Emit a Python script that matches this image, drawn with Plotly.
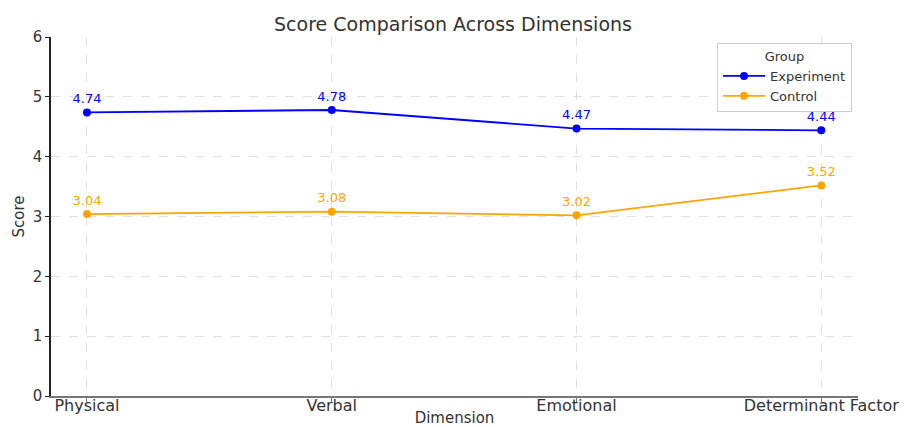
import plotly.graph_objects as go

dimensions = ["Physical", "Verbal", "Emotional", "Determinant Factor"]
experiment = [4.74, 4.78, 4.47, 4.44]
control = [3.04, 3.08, 3.02, 3.52]
y_ticks = [0, 1, 2, 3, 4, 5, 6]

FONT = "DejaVu Sans"
BLUE = "#0000FF"
ORANGE = "#FFA500"
TXT = "#333333"

fig = go.Figure()
for name, vals, col in [("Experiment", experiment, BLUE), ("Control", control, ORANGE)]:
    fig.add_trace(go.Scatter(
        x=list(range(len(dimensions))), y=vals, name=name,
        mode="lines+markers+text",
        text=[f"{v:.2f}" for v in vals], textposition="top center",
        textfont=dict(family=FONT, size=13, color=col),
        line=dict(color=col, width=1.8),
        marker=dict(color=col, size=8),
    ))

fig.update_layout(
    width=906, height=427,
    margin=dict(l=51, r=48, t=37, b=31),
    paper_bgcolor="white", plot_bgcolor="white",
    font=dict(family=FONT, size=14, color=TXT),
    title=dict(text="Score Comparison Across Dimensions", x=0.5, xanchor="center",
               y=1 - 24 / 427, yref="container", yanchor="middle",
               font=dict(family=FONT, size=19, color=TXT)),
    legend=dict(
        x=0.9926, xanchor="right", y=0.983, yanchor="top",
        bordercolor="#cccccc", borderwidth=1, bgcolor="rgba(255,255,255,0.9)",
        title=dict(text="Group", side="top center", font=dict(family=FONT, size=13, color=TXT)),
        font=dict(family=FONT, size=13, color=TXT),
        tracegroupgap=0, itemwidth=42,
    ),
    xaxis=dict(
        tickmode="array", tickvals=list(range(len(dimensions))), ticktext=dimensions,
        range=[-0.147, 3.15], showline=True, linecolor="#777", linewidth=2,
        ticks="outside", ticklen=4, tickcolor="#777", ticklabelstandoff=-10,
        showgrid=True, gridcolor="#e0e0e0", griddash="dash", gridwidth=1,
        zeroline=False, automargin=False,
        title=dict(text="Dimension", standoff=4, font=dict(family=FONT, size=15, color=TXT)),
        tickfont=dict(family=FONT, size=16, color=TXT),
    ),
    yaxis=dict(
        range=[0, 6], tickvals=y_ticks, showline=True, linecolor="#222", linewidth=1.5,
        ticks="outside", ticklen=4, tickcolor="#222",
        showgrid=True, gridcolor="#e0e0e0", griddash="dash", gridwidth=1,
        zeroline=False, automargin=False,
        title=dict(text="Score", standoff=4, font=dict(family=FONT, size=15, color=TXT)),
        tickfont=dict(family=FONT, size=15, color=TXT),
    ),
)

fig.write_html("out.html", config={"displayModeBar": False},
               post_script="document.body.style.margin='0';document.body.style.overflow='hidden';")
